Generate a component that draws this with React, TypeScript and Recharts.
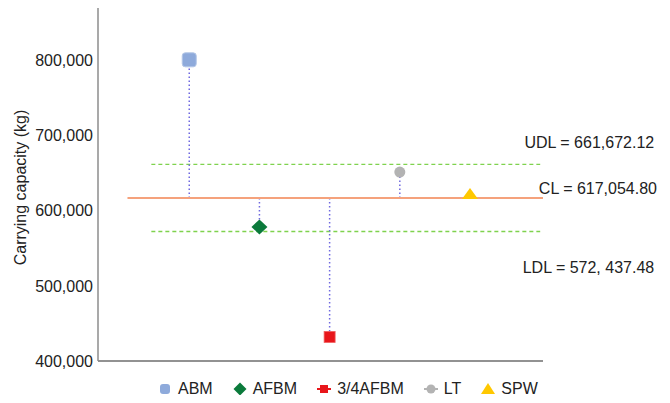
import React from "react";
import {
  ScatterChart,
  Scatter,
  XAxis,
  YAxis,
  ReferenceLine,
  Legend,
} from "recharts";

const categories = ["ABM", "AFBM", "3/4AFBM", "LT", "SPW"];
const positions = [1, 2, 3, 4, 5];
const capacity = [801000, 578500, 432000, 651500, 622274];
const colors = ["#8eaadb", "#0b7a3b", "#e8161b", "#b3b3b3", "#ffc800"];

const yTicks = [400000, 500000, 600000, 700000, 800000];

const UDL = 661672.12;
const CL = 617054.8;
const LDL = 572437.48;

const clStart = 0.12;
const limitStart = 0.46;
const limitEnd = 6.0;
const xMax = 6.04;

const font = "'Liberation Sans', Arial, sans-serif";

const fmt = (v: number) => v.toLocaleString("en-US");

function Marker(props: any) {
  const { cx, cy, kind } = props;
  if (cx == null || cy == null) return null;
  if (kind === 0) {
    return (
      <rect x={cx - 7} y={cy - 7} width={14} height={14} rx={3}
        fill="#8eaadb" stroke="#b4c7e7" strokeWidth={1} />
    );
  }
  if (kind === 1) {
    return (
      <polygon
        points={`${cx},${cy - 7.5} ${cx + 8},${cy} ${cx},${cy + 7.5} ${cx - 8},${cy}`}
        fill="#0b7a3b" />
    );
  }
  if (kind === 2) {
    return (
      <rect x={cx - 5.5} y={cy - 5.5} width={11} height={11}
        fill="#e8161b" stroke="#f06060" strokeWidth={0.8} />
    );
  }
  if (kind === 3) {
    return <circle cx={cx} cy={cy} r={5.5} fill="#b3b3b3" />;
  }
  return (
    <polygon
      points={`${cx},${cy - 6} ${cx + 8},${cy + 5} ${cx - 8},${cy + 5}`}
      fill="#ffc800" />
  );
}

function LegendIcon({ kind }: { kind: number }) {
  let shape;
  if (kind === 0) {
    shape = <rect x={3} y={3} width={10} height={10} rx={3} fill={colors[0]} />;
  } else if (kind === 1) {
    shape = <polygon points="8,1.5 14.5,8 8,14.5 1.5,8" fill={colors[1]} />;
  } else if (kind === 2) {
    shape = (
      <g>
        <line x1={1} y1={8} x2={15} y2={8} stroke={colors[2]} strokeWidth={2} />
        <rect x={4} y={4} width={8} height={8} fill={colors[2]} />
      </g>
    );
  } else if (kind === 3) {
    shape = (
      <g>
        <line x1={1} y1={8} x2={15} y2={8} stroke={colors[3]} strokeWidth={2} />
        <circle cx={8} cy={8} r={4.5} fill={colors[3]} />
      </g>
    );
  } else {
    shape = <polygon points="8,2 15,13 1,13" fill={colors[4]} />;
  }
  return (
    <svg width={16} height={16} style={{ marginRight: 5 }}>
      {shape}
    </svg>
  );
}

function LegendRow() {
  return (
    <div
      style={{
        display: "flex",
        justifyContent: "flex-start",
        alignItems: "center",
        paddingLeft: 157,
        fontFamily: font,
        fontSize: 16,
        lineHeight: "18px",
        color: "#222",
      }}
    >
      {categories.map((c, i) => (
        <div key={c} style={{ display: "flex", alignItems: "center", marginRight: 19 }}>
          <LegendIcon kind={i} />
          <span>{c}</span>
        </div>
      ))}
    </div>
  );
}

function LimitLabel(text: string, dy: number) {
  return (props: any) => {
    const vb = props.viewBox || {};
    return (
      <text
        x={(vb.x || 0) + (vb.width || 0) + 114}
        y={(vb.y || 0) + dy}
        textAnchor="end"
        dominantBaseline="central"
        fontFamily={font}
        fontSize={16}
        fill="#222"
      >
        {text}
      </text>
    );
  };
}

function YLabel(props: any) {
  const vb = props.viewBox || {};
  const cy = (vb.y || 0) + (vb.height || 0) / 2 + 3;
  return (
    <text
      x={20}
      y={cy}
      transform={`rotate(-90 20 ${cy})`}
      textAnchor="middle"
      dominantBaseline="central"
      fontFamily={font}
      fontSize={16}
      fill="#222"
    >
      Carrying capacity (kg)
    </text>
  );
}

export default function App() {
  return (
    <div style={{ margin: -8, width: 670, height: 403, background: "#fff" }}>
      <ScatterChart
        width={670}
        height={403}
        margin={{ top: 8, right: 127, left: 0, bottom: 23 }}
      >
        <XAxis
          type="number"
          dataKey="x"
          domain={[-0.3, xMax]}
          allowDataOverflow
          tick={false}
          tickLine={false}
          height={1}
          stroke="#6e6e6e"
          strokeWidth={1.5}
        />
        <YAxis
          type="number"
          dataKey="y"
          domain={[400000, 870000]}
          ticks={yTicks}
          tickFormatter={fmt}
          width={98}
          tickLine={false}
          tickSize={3}
          tickMargin={2}
          stroke="#8c8c8c"
          strokeWidth={1.5}
          tick={{ fill: "#222", fontSize: 16, fontFamily: font }}
          label={YLabel}
        />

        <ReferenceLine
          segment={[{ x: limitStart, y: UDL }, { x: limitEnd, y: UDL }]}
          stroke="#7fd24e"
          strokeDasharray="4 3"
          strokeWidth={1.3}
          label={LimitLabel("UDL = 661,672.12", -22)}
        />
        <ReferenceLine
          segment={[{ x: limitStart, y: LDL }, { x: limitEnd, y: LDL }]}
          stroke="#7fd24e"
          strokeDasharray="4 3"
          strokeWidth={1.5}
          label={LimitLabel("LDL = 572, 437.48", 36)}
        />

        {positions.map((p, i) => (
          <ReferenceLine
            key={"drop" + i}
            segment={[{ x: p, y: CL }, { x: p, y: capacity[i] }]}
            stroke="#6f68e0"
            strokeDasharray="1.5 2.5"
            strokeWidth={1.5}
          />
        ))}

        <ReferenceLine
          segment={[{ x: clStart, y: CL }, { x: xMax, y: CL }]}
          stroke="#f5a27c"
          strokeWidth={2}
          label={LimitLabel("CL = 617,054.80", -9)}
        />

        {categories.map((c, i) => (
          <Scatter
            key={c}
            name={c}
            data={[{ x: positions[i], y: capacity[i] }]}
            fill={colors[i]}
            isAnimationActive={false}
            shape={(props: any) => <Marker {...props} kind={i} />}
          />
        ))}

        <Legend
          verticalAlign="bottom"
          content={() => <LegendRow />}
          wrapperStyle={{ left: 0, width: 670, top: 380, bottom: "auto" }}
        />
      </ScatterChart>
    </div>
  );
}
